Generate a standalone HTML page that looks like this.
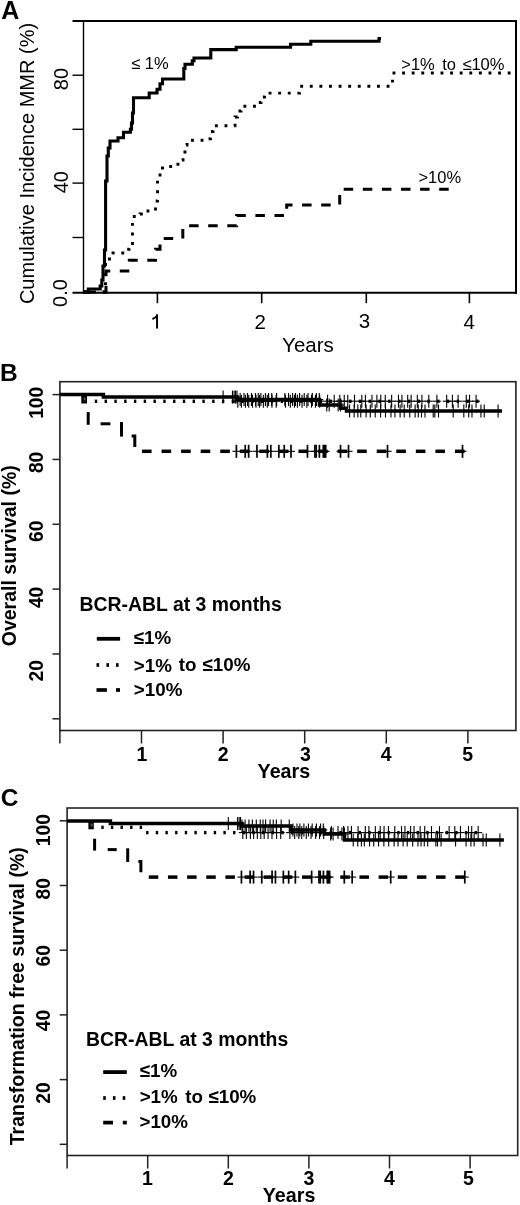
<!DOCTYPE html>
<html><head><meta charset="utf-8"><style>
html,body{margin:0;padding:0;background:#fff;}
svg{display:block;will-change:transform;}
text{font-family:"Liberation Sans", sans-serif;}
</style></head><body>
<svg width="520" height="1205" viewBox="0 0 520 1205">
<rect width="520" height="1205" fill="#fff"/>
<line x1="72.5" y1="21" x2="517" y2="21" stroke="#000" stroke-width="2" />
<line x1="516" y1="20" x2="516" y2="294" stroke="#000" stroke-width="2" />
<line x1="72.5" y1="292.8" x2="517" y2="292.8" stroke="#000" stroke-width="2" />
<line x1="83.5" y1="20" x2="83.5" y2="293.5" stroke="#000" stroke-width="1.4" />
<line x1="72.5" y1="75.2" x2="83.5" y2="75.2" stroke="#000" stroke-width="1.4" />
<line x1="72.5" y1="129.3" x2="83.5" y2="129.3" stroke="#000" stroke-width="1.4" />
<line x1="72.5" y1="183.1" x2="83.5" y2="183.1" stroke="#000" stroke-width="1.4" />
<line x1="72.5" y1="237.5" x2="83.5" y2="237.5" stroke="#000" stroke-width="1.4" />
<line x1="157.4" y1="292" x2="157.4" y2="303.2" stroke="#000" stroke-width="1.6" />
<line x1="261.7" y1="292" x2="261.7" y2="303.2" stroke="#000" stroke-width="1.6" />
<line x1="366.3" y1="292" x2="366.3" y2="303.2" stroke="#000" stroke-width="1.6" />
<line x1="469.4" y1="292" x2="469.4" y2="303.2" stroke="#000" stroke-width="1.6" />
<polyline points="83.50,292.00 88.30,292.00 88.30,289.00 100.20,289.00 100.20,286.00 101.80,286.00 101.80,280.00 103.00,280.00 103.00,266.00 104.50,266.00 104.50,250.00 105.60,250.00 105.60,181.00 107.00,181.00 107.00,156.00 108.30,156.00 108.30,148.00 110.00,148.00 110.00,141.00 118.00,141.00 118.00,137.70 123.50,137.70 123.50,132.30 130.40,132.30 130.40,129.20 131.50,129.20 131.50,123.00 132.50,123.00 132.50,113.00 133.50,113.00 133.50,97.70 149.20,97.70 149.20,93.00 157.00,93.00 157.00,89.20 160.00,89.20 160.00,83.80 162.50,83.80 162.50,79.00 183.80,79.00 183.80,68.50 185.00,68.50 185.00,64.20 192.30,64.20 192.30,60.80 194.00,60.80 194.00,58.00 210.80,58.00 210.80,49.60 236.20,49.60 236.20,47.30 290.60,47.30 290.60,44.20 310.80,44.20 310.80,41.30 379.00,41.30 379.00,38.50 381.00,38.50" fill="none" stroke="#000" stroke-width="3.1" stroke-linejoin="miter" stroke-linecap="butt" />
<polyline points="83.50,292.00 105.50,292.00 105.50,262.00 109.50,262.00 109.50,255.00 113.00,255.00 113.00,253.00 126.00,253.00 126.00,249.30 129.00,249.30 129.00,246.00 132.50,246.00 132.50,216.50 140.00,216.50 140.00,214.00 145.00,214.00 145.00,211.00 155.50,211.00 155.50,201.00 157.50,201.00 157.50,178.00 160.00,178.00 160.00,170.00 162.50,170.00 162.50,166.50 173.00,166.50 173.00,164.20 180.00,164.20 180.00,160.00 183.00,160.00 183.00,152.00 185.00,152.00 185.00,145.00 187.00,145.00 187.00,140.30 208.00,140.30 208.00,138.70 210.50,138.70 210.50,131.50 213.00,131.50 213.00,125.80 235.00,125.80 235.00,117.00 237.50,117.00 237.50,111.00 241.00,111.00 241.00,106.30 256.00,106.30 256.00,102.50 261.00,102.50 261.00,97.00 264.50,97.00 264.50,93.10 299.50,93.10 299.50,86.30 392.50,86.30 392.50,73.00 516.00,73.00" fill="none" stroke="#000" stroke-width="2.9" stroke-linejoin="miter" stroke-linecap="butt" stroke-dasharray="2.9 6.7" stroke-dashoffset="0"/>
<polyline points="83.50,292.00 106.00,292.00 106.00,271.00 129.30,271.00 129.30,260.30 155.50,260.30 155.50,249.20 160.00,249.20 160.00,238.50 182.80,238.50 182.80,225.70 236.60,225.70 236.60,215.60 286.70,215.60 286.70,205.00 339.70,205.00 339.70,189.30 450.00,189.30" fill="none" stroke="#000" stroke-width="3" stroke-linejoin="miter" stroke-linecap="butt" stroke-dasharray="9.5 9.6" stroke-dashoffset="0"/>
<path d="M157.05 314.3V328.6M157.6 315.0Q155.9 317.8 152.4 319.0" stroke="#000" stroke-width="1.95" fill="none"/>
<rect x="59.9" y="381.7" width="456.0" height="348.8" fill="none" stroke="#222" stroke-width="1.6"/>
<line x1="52.5" y1="394.59999999999997" x2="59.9" y2="394.59999999999997" stroke="#222" stroke-width="1.5" />
<line x1="52.5" y1="459.43999999999994" x2="59.9" y2="459.43999999999994" stroke="#222" stroke-width="1.5" />
<line x1="52.5" y1="524.28" x2="59.9" y2="524.28" stroke="#222" stroke-width="1.5" />
<line x1="52.5" y1="589.1199999999999" x2="59.9" y2="589.1199999999999" stroke="#222" stroke-width="1.5" />
<line x1="52.5" y1="653.9599999999999" x2="59.9" y2="653.9599999999999" stroke="#222" stroke-width="1.5" />
<line x1="52.5" y1="718.8" x2="59.9" y2="718.8" stroke="#222" stroke-width="1.5" />
<line x1="59.9" y1="730.5" x2="59.9" y2="743.5" stroke="#222" stroke-width="1.5" />
<line x1="141.5" y1="730.5" x2="141.5" y2="743.5" stroke="#222" stroke-width="1.5" />
<line x1="223.1" y1="730.5" x2="223.1" y2="743.5" stroke="#222" stroke-width="1.5" />
<line x1="304.7" y1="730.5" x2="304.7" y2="743.5" stroke="#222" stroke-width="1.5" />
<line x1="386.29999999999995" y1="730.5" x2="386.29999999999995" y2="743.5" stroke="#222" stroke-width="1.5" />
<line x1="467.9" y1="730.5" x2="467.9" y2="743.5" stroke="#222" stroke-width="1.5" />
<rect x="67.1" y="808" width="450.6" height="347.5" fill="none" stroke="#222" stroke-width="1.6"/>
<line x1="59.699999999999996" y1="820.8" x2="67.1" y2="820.8" stroke="#222" stroke-width="1.5" />
<line x1="59.699999999999996" y1="885.5" x2="67.1" y2="885.5" stroke="#222" stroke-width="1.5" />
<line x1="59.699999999999996" y1="950.1999999999999" x2="67.1" y2="950.1999999999999" stroke="#222" stroke-width="1.5" />
<line x1="59.699999999999996" y1="1014.9" x2="67.1" y2="1014.9" stroke="#222" stroke-width="1.5" />
<line x1="59.699999999999996" y1="1079.6" x2="67.1" y2="1079.6" stroke="#222" stroke-width="1.5" />
<line x1="59.699999999999996" y1="1144.3" x2="67.1" y2="1144.3" stroke="#222" stroke-width="1.5" />
<line x1="67.1" y1="1155.5" x2="67.1" y2="1168.5" stroke="#222" stroke-width="1.5" />
<line x1="147.7" y1="1155.5" x2="147.7" y2="1168.5" stroke="#222" stroke-width="1.5" />
<line x1="228.29999999999998" y1="1155.5" x2="228.29999999999998" y2="1168.5" stroke="#222" stroke-width="1.5" />
<line x1="308.9" y1="1155.5" x2="308.9" y2="1168.5" stroke="#222" stroke-width="1.5" />
<line x1="389.5" y1="1155.5" x2="389.5" y2="1168.5" stroke="#222" stroke-width="1.5" />
<line x1="470.1" y1="1155.5" x2="470.1" y2="1168.5" stroke="#222" stroke-width="1.5" />
<rect x="81.3" y="394.5" width="5.7" height="9" fill="#000"/><rect x="83.6" y="397.5" width="2" height="3" fill="#555"/>
<line x1="88.2" y1="412.1" x2="88.2" y2="424.8" stroke="#000" stroke-width="3" />
<line x1="100.6" y1="423.8" x2="110.4" y2="423.8" stroke="#000" stroke-width="3" />
<line x1="121.5" y1="422" x2="121.5" y2="436.6" stroke="#000" stroke-width="3" />
<polyline points="131.60,435.90 134.80,435.90 134.80,447.00" fill="none" stroke="#000" stroke-width="3" stroke-linejoin="miter" stroke-linecap="butt" />
<line x1="142" y1="451.3" x2="151.6" y2="451.3" stroke="#000" stroke-width="3.5" />
<line x1="161.56" y1="451.3" x2="171.16" y2="451.3" stroke="#000" stroke-width="3.5" />
<line x1="181.12" y1="451.3" x2="190.72" y2="451.3" stroke="#000" stroke-width="3.5" />
<line x1="200.68" y1="451.3" x2="210.28" y2="451.3" stroke="#000" stroke-width="3.5" />
<line x1="220.24" y1="451.3" x2="229.84" y2="451.3" stroke="#000" stroke-width="3.5" />
<line x1="239.8" y1="451.3" x2="249.4" y2="451.3" stroke="#000" stroke-width="3.5" />
<line x1="259.36" y1="451.3" x2="268.96000000000004" y2="451.3" stroke="#000" stroke-width="3.5" />
<line x1="278.92" y1="451.3" x2="288.52000000000004" y2="451.3" stroke="#000" stroke-width="3.5" />
<line x1="298.48" y1="451.3" x2="308.08000000000004" y2="451.3" stroke="#000" stroke-width="3.5" />
<line x1="318.04" y1="451.3" x2="327.64000000000004" y2="451.3" stroke="#000" stroke-width="3.5" />
<line x1="337.6" y1="451.3" x2="347.20000000000005" y2="451.3" stroke="#000" stroke-width="3.5" />
<line x1="357.16" y1="451.3" x2="366.76000000000005" y2="451.3" stroke="#000" stroke-width="3.5" />
<line x1="376.72" y1="451.3" x2="386.32000000000005" y2="451.3" stroke="#000" stroke-width="3.5" />
<line x1="396.28000000000003" y1="451.3" x2="405.88000000000005" y2="451.3" stroke="#000" stroke-width="3.5" />
<line x1="415.84000000000003" y1="451.3" x2="425.44000000000005" y2="451.3" stroke="#000" stroke-width="3.5" />
<line x1="435.40000000000003" y1="451.3" x2="445.00000000000006" y2="451.3" stroke="#000" stroke-width="3.5" />
<line x1="454.96000000000004" y1="451.3" x2="464.56000000000006" y2="451.3" stroke="#000" stroke-width="3.5" />
<line x1="94.8" y1="401.3" x2="97.2" y2="401.3" stroke="#000" stroke-width="3.4" />
<line x1="104.58" y1="401.3" x2="106.98" y2="401.3" stroke="#000" stroke-width="3.4" />
<line x1="114.36" y1="401.3" x2="116.76" y2="401.3" stroke="#000" stroke-width="3.4" />
<line x1="124.14" y1="401.3" x2="126.54" y2="401.3" stroke="#000" stroke-width="3.4" />
<line x1="133.92000000000002" y1="401.3" x2="136.32" y2="401.3" stroke="#000" stroke-width="3.4" />
<line x1="143.70000000000002" y1="401.3" x2="146.1" y2="401.3" stroke="#000" stroke-width="3.4" />
<line x1="153.48000000000002" y1="401.3" x2="155.88" y2="401.3" stroke="#000" stroke-width="3.4" />
<line x1="163.26000000000002" y1="401.3" x2="165.66" y2="401.3" stroke="#000" stroke-width="3.4" />
<line x1="173.04000000000002" y1="401.3" x2="175.44" y2="401.3" stroke="#000" stroke-width="3.4" />
<line x1="182.82000000000002" y1="401.3" x2="185.22" y2="401.3" stroke="#000" stroke-width="3.4" />
<line x1="192.60000000000002" y1="401.3" x2="195.0" y2="401.3" stroke="#000" stroke-width="3.4" />
<line x1="202.38000000000002" y1="401.3" x2="204.78" y2="401.3" stroke="#000" stroke-width="3.4" />
<line x1="212.16000000000003" y1="401.3" x2="214.56" y2="401.3" stroke="#000" stroke-width="3.4" />
<line x1="221.94000000000003" y1="401.3" x2="224.34" y2="401.3" stroke="#000" stroke-width="3.4" />
<line x1="231.72000000000003" y1="401.3" x2="234.12" y2="401.3" stroke="#000" stroke-width="3.4" />
<line x1="241.50000000000003" y1="401.3" x2="243.9" y2="401.3" stroke="#000" stroke-width="3.4" />
<line x1="251.28000000000003" y1="401.3" x2="253.68" y2="401.3" stroke="#000" stroke-width="3.4" />
<line x1="261.06" y1="401.3" x2="263.46" y2="401.3" stroke="#000" stroke-width="3.4" />
<line x1="270.84" y1="401.3" x2="273.23999999999995" y2="401.3" stroke="#000" stroke-width="3.4" />
<line x1="280.61999999999995" y1="401.3" x2="283.0199999999999" y2="401.3" stroke="#000" stroke-width="3.4" />
<line x1="290.3999999999999" y1="401.3" x2="292.7999999999999" y2="401.3" stroke="#000" stroke-width="3.4" />
<line x1="300.1799999999999" y1="401.3" x2="302.57999999999987" y2="401.3" stroke="#000" stroke-width="3.4" />
<line x1="309.95999999999987" y1="401.3" x2="312.35999999999984" y2="401.3" stroke="#000" stroke-width="3.4" />
<line x1="319.73999999999984" y1="401.3" x2="322.1399999999998" y2="401.3" stroke="#000" stroke-width="3.4" />
<line x1="329.5199999999998" y1="401.3" x2="331.9199999999998" y2="401.3" stroke="#000" stroke-width="3.4" />
<line x1="339.2999999999998" y1="401.3" x2="341.69999999999976" y2="401.3" stroke="#000" stroke-width="3.4" />
<line x1="349.07999999999976" y1="401.3" x2="351.47999999999973" y2="401.3" stroke="#000" stroke-width="3.4" />
<line x1="358.85999999999973" y1="401.3" x2="361.2599999999997" y2="401.3" stroke="#000" stroke-width="3.4" />
<line x1="368.6399999999997" y1="401.3" x2="371.0399999999997" y2="401.3" stroke="#000" stroke-width="3.4" />
<line x1="378.4199999999997" y1="401.3" x2="380.81999999999965" y2="401.3" stroke="#000" stroke-width="3.4" />
<line x1="388.19999999999965" y1="401.3" x2="390.5999999999996" y2="401.3" stroke="#000" stroke-width="3.4" />
<line x1="397.9799999999996" y1="401.3" x2="400.3799999999996" y2="401.3" stroke="#000" stroke-width="3.4" />
<line x1="407.7599999999996" y1="401.3" x2="410.15999999999957" y2="401.3" stroke="#000" stroke-width="3.4" />
<line x1="417.53999999999957" y1="401.3" x2="419.93999999999954" y2="401.3" stroke="#000" stroke-width="3.4" />
<line x1="427.31999999999954" y1="401.3" x2="429.7199999999995" y2="401.3" stroke="#000" stroke-width="3.4" />
<line x1="437.0999999999995" y1="401.3" x2="439.4999999999995" y2="401.3" stroke="#000" stroke-width="3.4" />
<line x1="446.8799999999995" y1="401.3" x2="449.27999999999946" y2="401.3" stroke="#000" stroke-width="3.4" />
<line x1="456.65999999999946" y1="401.3" x2="459.05999999999943" y2="401.3" stroke="#000" stroke-width="3.4" />
<line x1="466.43999999999943" y1="401.3" x2="468.8399999999994" y2="401.3" stroke="#000" stroke-width="3.4" />
<line x1="476.2199999999994" y1="401.3" x2="478.6199999999994" y2="401.3" stroke="#000" stroke-width="3.4" />
<rect x="88.4" y="821" width="5.4" height="8.3" fill="#000"/><rect x="90.6" y="823.6" width="2" height="3" fill="#555"/>
<line x1="94.6" y1="838.7" x2="94.6" y2="850.6" stroke="#000" stroke-width="3" />
<line x1="107.7" y1="849.6" x2="116.7" y2="849.6" stroke="#000" stroke-width="3" />
<line x1="127.7" y1="848.3" x2="127.7" y2="862" stroke="#000" stroke-width="3" />
<polyline points="138.40,861.40 140.90,861.40 140.90,872.30" fill="none" stroke="#000" stroke-width="3" stroke-linejoin="miter" stroke-linecap="butt" />
<line x1="148.8" y1="877.1" x2="158.3" y2="877.1" stroke="#000" stroke-width="3.5" />
<line x1="167.95000000000002" y1="877.1" x2="177.45000000000002" y2="877.1" stroke="#000" stroke-width="3.5" />
<line x1="187.10000000000002" y1="877.1" x2="196.60000000000002" y2="877.1" stroke="#000" stroke-width="3.5" />
<line x1="206.25000000000003" y1="877.1" x2="215.75000000000003" y2="877.1" stroke="#000" stroke-width="3.5" />
<line x1="225.40000000000003" y1="877.1" x2="234.90000000000003" y2="877.1" stroke="#000" stroke-width="3.5" />
<line x1="244.55000000000004" y1="877.1" x2="254.05000000000004" y2="877.1" stroke="#000" stroke-width="3.5" />
<line x1="263.70000000000005" y1="877.1" x2="273.20000000000005" y2="877.1" stroke="#000" stroke-width="3.5" />
<line x1="282.85" y1="877.1" x2="292.35" y2="877.1" stroke="#000" stroke-width="3.5" />
<line x1="302.0" y1="877.1" x2="311.5" y2="877.1" stroke="#000" stroke-width="3.5" />
<line x1="321.15" y1="877.1" x2="330.65" y2="877.1" stroke="#000" stroke-width="3.5" />
<line x1="340.29999999999995" y1="877.1" x2="349.79999999999995" y2="877.1" stroke="#000" stroke-width="3.5" />
<line x1="359.44999999999993" y1="877.1" x2="368.94999999999993" y2="877.1" stroke="#000" stroke-width="3.5" />
<line x1="378.5999999999999" y1="877.1" x2="388.0999999999999" y2="877.1" stroke="#000" stroke-width="3.5" />
<line x1="397.7499999999999" y1="877.1" x2="407.2499999999999" y2="877.1" stroke="#000" stroke-width="3.5" />
<line x1="416.89999999999986" y1="877.1" x2="426.39999999999986" y2="877.1" stroke="#000" stroke-width="3.5" />
<line x1="436.04999999999984" y1="877.1" x2="445.54999999999984" y2="877.1" stroke="#000" stroke-width="3.5" />
<line x1="455.1999999999998" y1="877.1" x2="464.6999999999998" y2="877.1" stroke="#000" stroke-width="3.5" />
<line x1="101.3" y1="827.3" x2="103.7" y2="827.3" stroke="#000" stroke-width="3.4" />
<line x1="110.89999999999999" y1="827.3" x2="113.3" y2="827.3" stroke="#000" stroke-width="3.4" />
<line x1="120.49999999999999" y1="827.3" x2="122.89999999999999" y2="827.3" stroke="#000" stroke-width="3.4" />
<line x1="130.1" y1="827.3" x2="132.49999999999997" y2="827.3" stroke="#000" stroke-width="3.4" />
<line x1="139.7" y1="827.3" x2="142.09999999999997" y2="827.3" stroke="#000" stroke-width="3.4" />
<line x1="146.10000000000002" y1="832.6" x2="148.5" y2="832.6" stroke="#000" stroke-width="3.4" />
<line x1="155.76000000000002" y1="832.6" x2="158.16" y2="832.6" stroke="#000" stroke-width="3.4" />
<line x1="165.42000000000002" y1="832.6" x2="167.82" y2="832.6" stroke="#000" stroke-width="3.4" />
<line x1="175.08" y1="832.6" x2="177.48" y2="832.6" stroke="#000" stroke-width="3.4" />
<line x1="184.74" y1="832.6" x2="187.14" y2="832.6" stroke="#000" stroke-width="3.4" />
<line x1="194.4" y1="832.6" x2="196.79999999999998" y2="832.6" stroke="#000" stroke-width="3.4" />
<line x1="204.06" y1="832.6" x2="206.45999999999998" y2="832.6" stroke="#000" stroke-width="3.4" />
<line x1="213.72" y1="832.6" x2="216.11999999999998" y2="832.6" stroke="#000" stroke-width="3.4" />
<line x1="223.38" y1="832.6" x2="225.77999999999997" y2="832.6" stroke="#000" stroke-width="3.4" />
<line x1="233.04" y1="832.6" x2="235.43999999999997" y2="832.6" stroke="#000" stroke-width="3.4" />
<line x1="242.7" y1="832.6" x2="245.09999999999997" y2="832.6" stroke="#000" stroke-width="3.4" />
<line x1="252.35999999999999" y1="832.6" x2="254.75999999999996" y2="832.6" stroke="#000" stroke-width="3.4" />
<line x1="262.02" y1="832.6" x2="264.41999999999996" y2="832.6" stroke="#000" stroke-width="3.4" />
<line x1="271.68" y1="832.6" x2="274.08" y2="832.6" stroke="#000" stroke-width="3.4" />
<line x1="281.34000000000003" y1="832.6" x2="283.74" y2="832.6" stroke="#000" stroke-width="3.4" />
<line x1="291.00000000000006" y1="832.6" x2="293.40000000000003" y2="832.6" stroke="#000" stroke-width="3.4" />
<line x1="300.6600000000001" y1="832.6" x2="303.06000000000006" y2="832.6" stroke="#000" stroke-width="3.4" />
<line x1="310.3200000000001" y1="832.6" x2="312.7200000000001" y2="832.6" stroke="#000" stroke-width="3.4" />
<line x1="319.98000000000013" y1="832.6" x2="322.3800000000001" y2="832.6" stroke="#000" stroke-width="3.4" />
<line x1="329.64000000000016" y1="832.6" x2="332.04000000000013" y2="832.6" stroke="#000" stroke-width="3.4" />
<line x1="339.3000000000002" y1="832.6" x2="341.70000000000016" y2="832.6" stroke="#000" stroke-width="3.4" />
<line x1="348.9600000000002" y1="832.6" x2="351.3600000000002" y2="832.6" stroke="#000" stroke-width="3.4" />
<line x1="358.62000000000023" y1="832.6" x2="361.0200000000002" y2="832.6" stroke="#000" stroke-width="3.4" />
<line x1="368.28000000000026" y1="832.6" x2="370.68000000000023" y2="832.6" stroke="#000" stroke-width="3.4" />
<line x1="377.9400000000003" y1="832.6" x2="380.34000000000026" y2="832.6" stroke="#000" stroke-width="3.4" />
<line x1="387.6000000000003" y1="832.6" x2="390.0000000000003" y2="832.6" stroke="#000" stroke-width="3.4" />
<line x1="397.26000000000033" y1="832.6" x2="399.6600000000003" y2="832.6" stroke="#000" stroke-width="3.4" />
<line x1="406.92000000000036" y1="832.6" x2="409.32000000000033" y2="832.6" stroke="#000" stroke-width="3.4" />
<line x1="416.5800000000004" y1="832.6" x2="418.98000000000036" y2="832.6" stroke="#000" stroke-width="3.4" />
<line x1="426.2400000000004" y1="832.6" x2="428.6400000000004" y2="832.6" stroke="#000" stroke-width="3.4" />
<line x1="435.90000000000043" y1="832.6" x2="438.3000000000004" y2="832.6" stroke="#000" stroke-width="3.4" />
<line x1="445.56000000000046" y1="832.6" x2="447.96000000000043" y2="832.6" stroke="#000" stroke-width="3.4" />
<line x1="455.2200000000005" y1="832.6" x2="457.62000000000046" y2="832.6" stroke="#000" stroke-width="3.4" />
<line x1="464.8800000000005" y1="832.6" x2="467.2800000000005" y2="832.6" stroke="#000" stroke-width="3.4" />
<line x1="474.54000000000053" y1="832.6" x2="476.9400000000005" y2="832.6" stroke="#000" stroke-width="3.4" />
<polyline points="59.90,394.60 103.40,394.60 103.40,397.10 237.00,397.10 237.00,399.60 319.50,399.60 319.50,405.00 340.80,405.00 340.80,408.30 346.50,408.30 346.50,411.00 502.00,411.00" fill="none" stroke="#000" stroke-width="3.5" stroke-linejoin="miter" stroke-linecap="butt" />
<polyline points="67.10,821.00 110.40,821.00 110.40,823.40 242.00,823.40 242.00,826.00 291.00,826.00 291.00,830.00 324.50,830.00 324.50,834.00 344.50,834.00 344.50,840.00 503.80,840.00" fill="none" stroke="#000" stroke-width="3.5" stroke-linejoin="miter" stroke-linecap="butt" />
<path d="M223.10 390.60V403.60" stroke="#000" stroke-width="1.1" fill="none"/><path d="M219.10 397.10H227.10" stroke="#000" stroke-width="1.1" fill="none"/>
<path d="M232.48 390.60V403.60" stroke="#000" stroke-width="1.1" fill="none"/><path d="M228.48 397.10H236.48" stroke="#000" stroke-width="1.1" fill="none"/>
<path d="M234.12 390.60V403.60" stroke="#000" stroke-width="1.1" fill="none"/><path d="M230.12 397.10H238.12" stroke="#000" stroke-width="1.1" fill="none"/>
<path d="M235.50 390.60V403.60" stroke="#000" stroke-width="1.1" fill="none"/><path d="M231.50 397.10H239.50" stroke="#000" stroke-width="1.1" fill="none"/>
<path d="M236.97 390.60V403.60" stroke="#000" stroke-width="1.1" fill="none"/><path d="M232.97 397.10H240.97" stroke="#000" stroke-width="1.1" fill="none"/>
<path d="M240.13 393.10V406.10" stroke="#000" stroke-width="1.1" fill="none"/><path d="M236.13 399.60H244.13" stroke="#000" stroke-width="1.1" fill="none"/>
<path d="M243.98 393.10V406.10" stroke="#000" stroke-width="1.1" fill="none"/><path d="M239.98 399.60H247.98" stroke="#000" stroke-width="1.1" fill="none"/>
<path d="M247.44 393.10V406.10" stroke="#000" stroke-width="1.1" fill="none"/><path d="M243.44 399.60H251.44" stroke="#000" stroke-width="1.1" fill="none"/>
<path d="M251.43 393.10V406.10" stroke="#000" stroke-width="1.1" fill="none"/><path d="M247.43 399.60H255.43" stroke="#000" stroke-width="1.1" fill="none"/>
<path d="M255.47 393.10V406.10" stroke="#000" stroke-width="1.1" fill="none"/><path d="M251.47 399.60H259.47" stroke="#000" stroke-width="1.1" fill="none"/>
<path d="M258.23 393.10V406.10" stroke="#000" stroke-width="1.1" fill="none"/><path d="M254.23 399.60H262.23" stroke="#000" stroke-width="1.1" fill="none"/>
<path d="M260.87 393.10V406.10" stroke="#000" stroke-width="1.1" fill="none"/><path d="M256.87 399.60H264.87" stroke="#000" stroke-width="1.1" fill="none"/>
<path d="M265.40 393.10V406.10" stroke="#000" stroke-width="1.1" fill="none"/><path d="M261.40 399.60H269.40" stroke="#000" stroke-width="1.1" fill="none"/>
<path d="M268.60 393.10V406.10" stroke="#000" stroke-width="1.1" fill="none"/><path d="M264.60 399.60H272.60" stroke="#000" stroke-width="1.1" fill="none"/>
<path d="M271.75 393.10V406.10" stroke="#000" stroke-width="1.1" fill="none"/><path d="M267.75 399.60H275.75" stroke="#000" stroke-width="1.1" fill="none"/>
<path d="M276.63 393.10V406.10" stroke="#000" stroke-width="1.1" fill="none"/><path d="M272.63 399.60H280.63" stroke="#000" stroke-width="1.1" fill="none"/>
<path d="M284.84 393.10V406.10" stroke="#000" stroke-width="1.1" fill="none"/><path d="M280.84 399.60H288.84" stroke="#000" stroke-width="1.1" fill="none"/>
<path d="M288.54 393.10V406.10" stroke="#000" stroke-width="1.1" fill="none"/><path d="M284.54 399.60H292.54" stroke="#000" stroke-width="1.1" fill="none"/>
<path d="M292.61 393.10V406.10" stroke="#000" stroke-width="1.1" fill="none"/><path d="M288.61 399.60H296.61" stroke="#000" stroke-width="1.1" fill="none"/>
<path d="M295.57 393.10V406.10" stroke="#000" stroke-width="1.1" fill="none"/><path d="M291.57 399.60H299.57" stroke="#000" stroke-width="1.1" fill="none"/>
<path d="M299.63 393.10V406.10" stroke="#000" stroke-width="1.1" fill="none"/><path d="M295.63 399.60H303.63" stroke="#000" stroke-width="1.1" fill="none"/>
<path d="M304.22 393.10V406.10" stroke="#000" stroke-width="1.1" fill="none"/><path d="M300.22 399.60H308.22" stroke="#000" stroke-width="1.1" fill="none"/>
<path d="M308.03 393.10V406.10" stroke="#000" stroke-width="1.1" fill="none"/><path d="M304.03 399.60H312.03" stroke="#000" stroke-width="1.1" fill="none"/>
<path d="M312.34 393.10V406.10" stroke="#000" stroke-width="1.1" fill="none"/><path d="M308.34 399.60H316.34" stroke="#000" stroke-width="1.1" fill="none"/>
<path d="M316.48 393.10V406.10" stroke="#000" stroke-width="1.1" fill="none"/><path d="M312.48 399.60H320.48" stroke="#000" stroke-width="1.1" fill="none"/>
<path d="M319.24 393.10V406.10" stroke="#000" stroke-width="1.1" fill="none"/><path d="M315.24 399.60H323.24" stroke="#000" stroke-width="1.1" fill="none"/>
<path d="M326.73 398.50V411.50" stroke="#000" stroke-width="1.1" fill="none"/><path d="M322.73 405.00H330.73" stroke="#000" stroke-width="1.1" fill="none"/>
<path d="M329.18 398.50V411.50" stroke="#000" stroke-width="1.1" fill="none"/><path d="M325.18 405.00H333.18" stroke="#000" stroke-width="1.1" fill="none"/>
<path d="M338.16 398.50V411.50" stroke="#000" stroke-width="1.1" fill="none"/><path d="M334.16 405.00H342.16" stroke="#000" stroke-width="1.1" fill="none"/>
<path d="M340.60 398.50V411.50" stroke="#000" stroke-width="1.1" fill="none"/><path d="M336.60 405.00H344.60" stroke="#000" stroke-width="1.1" fill="none"/>
<path d="M349.58 404.50V417.50" stroke="#000" stroke-width="1.1" fill="none"/><path d="M345.58 411.00H353.58" stroke="#000" stroke-width="1.1" fill="none"/>
<path d="M354.12 404.50V417.50" stroke="#000" stroke-width="1.1" fill="none"/><path d="M350.12 411.00H358.12" stroke="#000" stroke-width="1.1" fill="none"/>
<path d="M357.84 404.50V417.50" stroke="#000" stroke-width="1.1" fill="none"/><path d="M353.84 411.00H361.84" stroke="#000" stroke-width="1.1" fill="none"/>
<path d="M360.79 404.50V417.50" stroke="#000" stroke-width="1.1" fill="none"/><path d="M356.79 411.00H364.79" stroke="#000" stroke-width="1.1" fill="none"/>
<path d="M366.11 404.50V417.50" stroke="#000" stroke-width="1.1" fill="none"/><path d="M362.11 411.00H370.11" stroke="#000" stroke-width="1.1" fill="none"/>
<path d="M370.32 404.50V417.50" stroke="#000" stroke-width="1.1" fill="none"/><path d="M366.32 411.00H374.32" stroke="#000" stroke-width="1.1" fill="none"/>
<path d="M375.23 404.50V417.50" stroke="#000" stroke-width="1.1" fill="none"/><path d="M371.23 411.00H379.23" stroke="#000" stroke-width="1.1" fill="none"/>
<path d="M380.59 404.50V417.50" stroke="#000" stroke-width="1.1" fill="none"/><path d="M376.59 411.00H384.59" stroke="#000" stroke-width="1.1" fill="none"/>
<path d="M385.49 404.50V417.50" stroke="#000" stroke-width="1.1" fill="none"/><path d="M381.49 411.00H389.49" stroke="#000" stroke-width="1.1" fill="none"/>
<path d="M390.98 404.50V417.50" stroke="#000" stroke-width="1.1" fill="none"/><path d="M386.98 411.00H394.98" stroke="#000" stroke-width="1.1" fill="none"/>
<path d="M394.96 404.50V417.50" stroke="#000" stroke-width="1.1" fill="none"/><path d="M390.96 411.00H398.96" stroke="#000" stroke-width="1.1" fill="none"/>
<path d="M400.10 404.50V417.50" stroke="#000" stroke-width="1.1" fill="none"/><path d="M396.10 411.00H404.10" stroke="#000" stroke-width="1.1" fill="none"/>
<path d="M404.23 404.50V417.50" stroke="#000" stroke-width="1.1" fill="none"/><path d="M400.23 411.00H408.23" stroke="#000" stroke-width="1.1" fill="none"/>
<path d="M409.76 404.50V417.50" stroke="#000" stroke-width="1.1" fill="none"/><path d="M405.76 411.00H413.76" stroke="#000" stroke-width="1.1" fill="none"/>
<path d="M415.12 404.50V417.50" stroke="#000" stroke-width="1.1" fill="none"/><path d="M411.12 411.00H419.12" stroke="#000" stroke-width="1.1" fill="none"/>
<path d="M418.26 404.50V417.50" stroke="#000" stroke-width="1.1" fill="none"/><path d="M414.26 411.00H422.26" stroke="#000" stroke-width="1.1" fill="none"/>
<path d="M421.50 404.50V417.50" stroke="#000" stroke-width="1.1" fill="none"/><path d="M417.50 411.00H425.50" stroke="#000" stroke-width="1.1" fill="none"/>
<path d="M424.98 404.50V417.50" stroke="#000" stroke-width="1.1" fill="none"/><path d="M420.98 411.00H428.98" stroke="#000" stroke-width="1.1" fill="none"/>
<path d="M433.22 404.50V417.50" stroke="#000" stroke-width="1.1" fill="none"/><path d="M429.22 411.00H437.22" stroke="#000" stroke-width="1.1" fill="none"/>
<path d="M434.85 404.50V417.50" stroke="#000" stroke-width="1.1" fill="none"/><path d="M430.85 411.00H438.85" stroke="#000" stroke-width="1.1" fill="none"/>
<path d="M438.52 404.50V417.50" stroke="#000" stroke-width="1.1" fill="none"/><path d="M434.52 411.00H442.52" stroke="#000" stroke-width="1.1" fill="none"/>
<path d="M453.21 404.50V417.50" stroke="#000" stroke-width="1.1" fill="none"/><path d="M449.21 411.00H457.21" stroke="#000" stroke-width="1.1" fill="none"/>
<path d="M463.82 404.50V417.50" stroke="#000" stroke-width="1.1" fill="none"/><path d="M459.82 411.00H467.82" stroke="#000" stroke-width="1.1" fill="none"/>
<path d="M468.72 404.50V417.50" stroke="#000" stroke-width="1.1" fill="none"/><path d="M464.72 411.00H472.72" stroke="#000" stroke-width="1.1" fill="none"/>
<path d="M471.98 404.50V417.50" stroke="#000" stroke-width="1.1" fill="none"/><path d="M467.98 411.00H475.98" stroke="#000" stroke-width="1.1" fill="none"/>
<path d="M480.96 404.50V417.50" stroke="#000" stroke-width="1.1" fill="none"/><path d="M476.96 411.00H484.96" stroke="#000" stroke-width="1.1" fill="none"/>
<path d="M484.22 404.50V417.50" stroke="#000" stroke-width="1.1" fill="none"/><path d="M480.22 411.00H488.22" stroke="#000" stroke-width="1.1" fill="none"/>
<path d="M498.09 404.50V417.50" stroke="#000" stroke-width="1.1" fill="none"/><path d="M494.09 411.00H502.09" stroke="#000" stroke-width="1.1" fill="none"/>
<path d="M237.79 394.70V407.70" stroke="#000" stroke-width="1.1" fill="none"/><path d="M233.79 401.20H241.79" stroke="#000" stroke-width="1.1" fill="none"/>
<path d="M241.40 394.70V407.70" stroke="#000" stroke-width="1.1" fill="none"/><path d="M237.40 401.20H245.40" stroke="#000" stroke-width="1.1" fill="none"/>
<path d="M245.44 394.70V407.70" stroke="#000" stroke-width="1.1" fill="none"/><path d="M241.44 401.20H249.44" stroke="#000" stroke-width="1.1" fill="none"/>
<path d="M248.74 394.70V407.70" stroke="#000" stroke-width="1.1" fill="none"/><path d="M244.74 401.20H252.74" stroke="#000" stroke-width="1.1" fill="none"/>
<path d="M252.51 394.70V407.70" stroke="#000" stroke-width="1.1" fill="none"/><path d="M248.51 401.20H256.51" stroke="#000" stroke-width="1.1" fill="none"/>
<path d="M256.00 394.70V407.70" stroke="#000" stroke-width="1.1" fill="none"/><path d="M252.00 401.20H260.00" stroke="#000" stroke-width="1.1" fill="none"/>
<path d="M259.41 394.70V407.70" stroke="#000" stroke-width="1.1" fill="none"/><path d="M255.41 401.20H263.41" stroke="#000" stroke-width="1.1" fill="none"/>
<path d="M263.36 394.70V407.70" stroke="#000" stroke-width="1.1" fill="none"/><path d="M259.36 401.20H267.36" stroke="#000" stroke-width="1.1" fill="none"/>
<path d="M267.31 394.70V407.70" stroke="#000" stroke-width="1.1" fill="none"/><path d="M263.31 401.20H271.31" stroke="#000" stroke-width="1.1" fill="none"/>
<path d="M271.98 394.70V407.70" stroke="#000" stroke-width="1.1" fill="none"/><path d="M267.98 401.20H275.98" stroke="#000" stroke-width="1.1" fill="none"/>
<path d="M276.15 394.70V407.70" stroke="#000" stroke-width="1.1" fill="none"/><path d="M272.15 401.20H280.15" stroke="#000" stroke-width="1.1" fill="none"/>
<path d="M285.46 394.70V407.70" stroke="#000" stroke-width="1.1" fill="none"/><path d="M281.46 401.20H289.46" stroke="#000" stroke-width="1.1" fill="none"/>
<path d="M290.33 394.70V407.70" stroke="#000" stroke-width="1.1" fill="none"/><path d="M286.33 401.20H294.33" stroke="#000" stroke-width="1.1" fill="none"/>
<path d="M294.48 394.70V407.70" stroke="#000" stroke-width="1.1" fill="none"/><path d="M290.48 401.20H298.48" stroke="#000" stroke-width="1.1" fill="none"/>
<path d="M297.46 394.70V407.70" stroke="#000" stroke-width="1.1" fill="none"/><path d="M293.46 401.20H301.46" stroke="#000" stroke-width="1.1" fill="none"/>
<path d="M302.04 394.70V407.70" stroke="#000" stroke-width="1.1" fill="none"/><path d="M298.04 401.20H306.04" stroke="#000" stroke-width="1.1" fill="none"/>
<path d="M306.85 394.70V407.70" stroke="#000" stroke-width="1.1" fill="none"/><path d="M302.85 401.20H310.85" stroke="#000" stroke-width="1.1" fill="none"/>
<path d="M311.53 394.70V407.70" stroke="#000" stroke-width="1.1" fill="none"/><path d="M307.53 401.20H315.53" stroke="#000" stroke-width="1.1" fill="none"/>
<path d="M315.44 394.70V407.70" stroke="#000" stroke-width="1.1" fill="none"/><path d="M311.44 401.20H319.44" stroke="#000" stroke-width="1.1" fill="none"/>
<path d="M319.68 394.70V407.70" stroke="#000" stroke-width="1.1" fill="none"/><path d="M315.68 401.20H323.68" stroke="#000" stroke-width="1.1" fill="none"/>
<path d="M327.55 394.70V407.70" stroke="#000" stroke-width="1.1" fill="none"/><path d="M323.55 401.20H331.55" stroke="#000" stroke-width="1.1" fill="none"/>
<path d="M334.20 394.70V407.70" stroke="#000" stroke-width="1.1" fill="none"/><path d="M330.20 401.20H338.20" stroke="#000" stroke-width="1.1" fill="none"/>
<path d="M339.81 394.70V407.70" stroke="#000" stroke-width="1.1" fill="none"/><path d="M335.81 401.20H343.81" stroke="#000" stroke-width="1.1" fill="none"/>
<path d="M344.24 394.70V407.70" stroke="#000" stroke-width="1.1" fill="none"/><path d="M340.24 401.20H348.24" stroke="#000" stroke-width="1.1" fill="none"/>
<path d="M347.76 394.70V407.70" stroke="#000" stroke-width="1.1" fill="none"/><path d="M343.76 401.20H351.76" stroke="#000" stroke-width="1.1" fill="none"/>
<path d="M354.51 394.70V407.70" stroke="#000" stroke-width="1.1" fill="none"/><path d="M350.51 401.20H358.51" stroke="#000" stroke-width="1.1" fill="none"/>
<path d="M361.81 394.70V407.70" stroke="#000" stroke-width="1.1" fill="none"/><path d="M357.81 401.20H365.81" stroke="#000" stroke-width="1.1" fill="none"/>
<path d="M365.43 394.70V407.70" stroke="#000" stroke-width="1.1" fill="none"/><path d="M361.43 401.20H369.43" stroke="#000" stroke-width="1.1" fill="none"/>
<path d="M371.96 394.70V407.70" stroke="#000" stroke-width="1.1" fill="none"/><path d="M367.96 401.20H375.96" stroke="#000" stroke-width="1.1" fill="none"/>
<path d="M376.90 394.70V407.70" stroke="#000" stroke-width="1.1" fill="none"/><path d="M372.90 401.20H380.90" stroke="#000" stroke-width="1.1" fill="none"/>
<path d="M380.78 394.70V407.70" stroke="#000" stroke-width="1.1" fill="none"/><path d="M376.78 401.20H384.78" stroke="#000" stroke-width="1.1" fill="none"/>
<path d="M385.25 394.70V407.70" stroke="#000" stroke-width="1.1" fill="none"/><path d="M381.25 401.20H389.25" stroke="#000" stroke-width="1.1" fill="none"/>
<path d="M391.65 394.70V407.70" stroke="#000" stroke-width="1.1" fill="none"/><path d="M387.65 401.20H395.65" stroke="#000" stroke-width="1.1" fill="none"/>
<path d="M398.47 394.70V407.70" stroke="#000" stroke-width="1.1" fill="none"/><path d="M394.47 401.20H402.47" stroke="#000" stroke-width="1.1" fill="none"/>
<path d="M401.92 394.70V407.70" stroke="#000" stroke-width="1.1" fill="none"/><path d="M397.92 401.20H405.92" stroke="#000" stroke-width="1.1" fill="none"/>
<path d="M407.69 394.70V407.70" stroke="#000" stroke-width="1.1" fill="none"/><path d="M403.69 401.20H411.69" stroke="#000" stroke-width="1.1" fill="none"/>
<path d="M411.13 394.70V407.70" stroke="#000" stroke-width="1.1" fill="none"/><path d="M407.13 401.20H415.13" stroke="#000" stroke-width="1.1" fill="none"/>
<path d="M417.33 394.70V407.70" stroke="#000" stroke-width="1.1" fill="none"/><path d="M413.33 401.20H421.33" stroke="#000" stroke-width="1.1" fill="none"/>
<path d="M421.94 394.70V407.70" stroke="#000" stroke-width="1.1" fill="none"/><path d="M417.94 401.20H425.94" stroke="#000" stroke-width="1.1" fill="none"/>
<path d="M428.80 394.70V407.70" stroke="#000" stroke-width="1.1" fill="none"/><path d="M424.80 401.20H432.80" stroke="#000" stroke-width="1.1" fill="none"/>
<path d="M436.89 394.70V407.70" stroke="#000" stroke-width="1.1" fill="none"/><path d="M432.89 401.20H440.89" stroke="#000" stroke-width="1.1" fill="none"/>
<path d="M446.68 394.70V407.70" stroke="#000" stroke-width="1.1" fill="none"/><path d="M442.68 401.20H450.68" stroke="#000" stroke-width="1.1" fill="none"/>
<path d="M452.40 394.70V407.70" stroke="#000" stroke-width="1.1" fill="none"/><path d="M448.40 401.20H456.40" stroke="#000" stroke-width="1.1" fill="none"/>
<path d="M458.11 394.70V407.70" stroke="#000" stroke-width="1.1" fill="none"/><path d="M454.11 401.20H462.11" stroke="#000" stroke-width="1.1" fill="none"/>
<path d="M466.27 394.70V407.70" stroke="#000" stroke-width="1.1" fill="none"/><path d="M462.27 401.20H470.27" stroke="#000" stroke-width="1.1" fill="none"/>
<path d="M469.53 394.70V407.70" stroke="#000" stroke-width="1.1" fill="none"/><path d="M465.53 401.20H473.53" stroke="#000" stroke-width="1.1" fill="none"/>
<path d="M476.06 394.70V407.70" stroke="#000" stroke-width="1.1" fill="none"/><path d="M472.06 401.20H480.06" stroke="#000" stroke-width="1.1" fill="none"/>
<path d="M236.40 444.80V457.80" stroke="#000" stroke-width="1.7" fill="none"/><path d="M232.40 451.30H240.40" stroke="#000" stroke-width="1.1" fill="none"/>
<path d="M245.21 444.80V457.80" stroke="#000" stroke-width="1.7" fill="none"/><path d="M241.21 451.30H249.21" stroke="#000" stroke-width="1.1" fill="none"/>
<path d="M248.64 444.80V457.80" stroke="#000" stroke-width="1.7" fill="none"/><path d="M244.64 451.30H252.64" stroke="#000" stroke-width="1.1" fill="none"/>
<path d="M256.96 444.80V457.80" stroke="#000" stroke-width="1.7" fill="none"/><path d="M252.96 451.30H260.96" stroke="#000" stroke-width="1.1" fill="none"/>
<path d="M267.41 444.80V457.80" stroke="#000" stroke-width="1.7" fill="none"/><path d="M263.41 451.30H271.41" stroke="#000" stroke-width="1.1" fill="none"/>
<path d="M270.84 444.80V457.80" stroke="#000" stroke-width="1.7" fill="none"/><path d="M266.84 451.30H274.84" stroke="#000" stroke-width="1.1" fill="none"/>
<path d="M278.83 444.80V457.80" stroke="#000" stroke-width="1.7" fill="none"/><path d="M274.83 451.30H282.83" stroke="#000" stroke-width="1.1" fill="none"/>
<path d="M284.22 444.80V457.80" stroke="#000" stroke-width="1.7" fill="none"/><path d="M280.22 451.30H288.22" stroke="#000" stroke-width="1.1" fill="none"/>
<path d="M290.99 444.80V457.80" stroke="#000" stroke-width="1.7" fill="none"/><path d="M286.99 451.30H294.99" stroke="#000" stroke-width="1.1" fill="none"/>
<path d="M307.47 444.80V457.80" stroke="#000" stroke-width="1.7" fill="none"/><path d="M303.47 451.30H311.47" stroke="#000" stroke-width="1.1" fill="none"/>
<path d="M314.90 444.80V457.80" stroke="#000" stroke-width="1.7" fill="none"/><path d="M310.90 451.30H318.90" stroke="#000" stroke-width="1.1" fill="none"/>
<path d="M316.21 444.80V457.80" stroke="#000" stroke-width="1.7" fill="none"/><path d="M312.21 451.30H320.21" stroke="#000" stroke-width="1.1" fill="none"/>
<path d="M319.39 444.80V457.80" stroke="#000" stroke-width="1.7" fill="none"/><path d="M315.39 451.30H323.39" stroke="#000" stroke-width="1.1" fill="none"/>
<path d="M323.30 444.80V457.80" stroke="#000" stroke-width="1.7" fill="none"/><path d="M319.30 451.30H327.30" stroke="#000" stroke-width="1.1" fill="none"/>
<path d="M324.28 444.80V457.80" stroke="#000" stroke-width="1.7" fill="none"/><path d="M320.28 451.30H328.28" stroke="#000" stroke-width="1.1" fill="none"/>
<path d="M325.67 444.80V457.80" stroke="#000" stroke-width="1.7" fill="none"/><path d="M321.67 451.30H329.67" stroke="#000" stroke-width="1.1" fill="none"/>
<path d="M340.52 444.80V457.80" stroke="#000" stroke-width="1.7" fill="none"/><path d="M336.52 451.30H344.52" stroke="#000" stroke-width="1.1" fill="none"/>
<path d="M348.52 444.80V457.80" stroke="#000" stroke-width="1.7" fill="none"/><path d="M344.52 451.30H352.52" stroke="#000" stroke-width="1.1" fill="none"/>
<path d="M387.52 444.80V457.80" stroke="#000" stroke-width="1.7" fill="none"/><path d="M383.52 451.30H391.52" stroke="#000" stroke-width="1.1" fill="none"/>
<path d="M462.51 444.80V457.80" stroke="#000" stroke-width="1.7" fill="none"/><path d="M458.51 451.30H466.51" stroke="#000" stroke-width="1.1" fill="none"/>
<path d="M228.30 816.90V829.90" stroke="#000" stroke-width="1.1" fill="none"/><path d="M224.30 823.40H232.30" stroke="#000" stroke-width="1.1" fill="none"/>
<path d="M237.57 816.90V829.90" stroke="#000" stroke-width="1.1" fill="none"/><path d="M233.57 823.40H241.57" stroke="#000" stroke-width="1.1" fill="none"/>
<path d="M239.18 816.90V829.90" stroke="#000" stroke-width="1.1" fill="none"/><path d="M235.18 823.40H243.18" stroke="#000" stroke-width="1.1" fill="none"/>
<path d="M240.55 816.90V829.90" stroke="#000" stroke-width="1.1" fill="none"/><path d="M236.55 823.40H244.55" stroke="#000" stroke-width="1.1" fill="none"/>
<path d="M242.00 819.50V832.50" stroke="#000" stroke-width="1.1" fill="none"/><path d="M238.00 826.00H246.00" stroke="#000" stroke-width="1.1" fill="none"/>
<path d="M245.12 819.50V832.50" stroke="#000" stroke-width="1.1" fill="none"/><path d="M241.12 826.00H249.12" stroke="#000" stroke-width="1.1" fill="none"/>
<path d="M248.93 819.50V832.50" stroke="#000" stroke-width="1.1" fill="none"/><path d="M244.93 826.00H252.93" stroke="#000" stroke-width="1.1" fill="none"/>
<path d="M252.34 819.50V832.50" stroke="#000" stroke-width="1.1" fill="none"/><path d="M248.34 826.00H256.34" stroke="#000" stroke-width="1.1" fill="none"/>
<path d="M256.28 819.50V832.50" stroke="#000" stroke-width="1.1" fill="none"/><path d="M252.28 826.00H260.28" stroke="#000" stroke-width="1.1" fill="none"/>
<path d="M260.27 819.50V832.50" stroke="#000" stroke-width="1.1" fill="none"/><path d="M256.27 826.00H264.27" stroke="#000" stroke-width="1.1" fill="none"/>
<path d="M263.00 819.50V832.50" stroke="#000" stroke-width="1.1" fill="none"/><path d="M259.00 826.00H267.00" stroke="#000" stroke-width="1.1" fill="none"/>
<path d="M265.61 819.50V832.50" stroke="#000" stroke-width="1.1" fill="none"/><path d="M261.61 826.00H269.61" stroke="#000" stroke-width="1.1" fill="none"/>
<path d="M270.08 819.50V832.50" stroke="#000" stroke-width="1.1" fill="none"/><path d="M266.08 826.00H274.08" stroke="#000" stroke-width="1.1" fill="none"/>
<path d="M273.24 819.50V832.50" stroke="#000" stroke-width="1.1" fill="none"/><path d="M269.24 826.00H277.24" stroke="#000" stroke-width="1.1" fill="none"/>
<path d="M276.35 819.50V832.50" stroke="#000" stroke-width="1.1" fill="none"/><path d="M272.35 826.00H280.35" stroke="#000" stroke-width="1.1" fill="none"/>
<path d="M281.18 819.50V832.50" stroke="#000" stroke-width="1.1" fill="none"/><path d="M277.18 826.00H285.18" stroke="#000" stroke-width="1.1" fill="none"/>
<path d="M289.28 819.50V832.50" stroke="#000" stroke-width="1.1" fill="none"/><path d="M285.28 826.00H293.28" stroke="#000" stroke-width="1.1" fill="none"/>
<path d="M292.94 823.50V836.50" stroke="#000" stroke-width="1.1" fill="none"/><path d="M288.94 830.00H296.94" stroke="#000" stroke-width="1.1" fill="none"/>
<path d="M296.96 823.50V836.50" stroke="#000" stroke-width="1.1" fill="none"/><path d="M292.96 830.00H300.96" stroke="#000" stroke-width="1.1" fill="none"/>
<path d="M299.88 823.50V836.50" stroke="#000" stroke-width="1.1" fill="none"/><path d="M295.88 830.00H303.88" stroke="#000" stroke-width="1.1" fill="none"/>
<path d="M303.89 823.50V836.50" stroke="#000" stroke-width="1.1" fill="none"/><path d="M299.89 830.00H307.89" stroke="#000" stroke-width="1.1" fill="none"/>
<path d="M308.43 823.50V836.50" stroke="#000" stroke-width="1.1" fill="none"/><path d="M304.43 830.00H312.43" stroke="#000" stroke-width="1.1" fill="none"/>
<path d="M312.19 823.50V836.50" stroke="#000" stroke-width="1.1" fill="none"/><path d="M308.19 830.00H316.19" stroke="#000" stroke-width="1.1" fill="none"/>
<path d="M316.44 823.50V836.50" stroke="#000" stroke-width="1.1" fill="none"/><path d="M312.44 830.00H320.44" stroke="#000" stroke-width="1.1" fill="none"/>
<path d="M320.54 823.50V836.50" stroke="#000" stroke-width="1.1" fill="none"/><path d="M316.54 830.00H324.54" stroke="#000" stroke-width="1.1" fill="none"/>
<path d="M323.26 823.50V836.50" stroke="#000" stroke-width="1.1" fill="none"/><path d="M319.26 830.00H327.26" stroke="#000" stroke-width="1.1" fill="none"/>
<path d="M330.66 827.50V840.50" stroke="#000" stroke-width="1.1" fill="none"/><path d="M326.66 834.00H334.66" stroke="#000" stroke-width="1.1" fill="none"/>
<path d="M333.08 827.50V840.50" stroke="#000" stroke-width="1.1" fill="none"/><path d="M329.08 834.00H337.08" stroke="#000" stroke-width="1.1" fill="none"/>
<path d="M341.95 827.50V840.50" stroke="#000" stroke-width="1.1" fill="none"/><path d="M337.95 834.00H345.95" stroke="#000" stroke-width="1.1" fill="none"/>
<path d="M344.36 827.50V840.50" stroke="#000" stroke-width="1.1" fill="none"/><path d="M340.36 834.00H348.36" stroke="#000" stroke-width="1.1" fill="none"/>
<path d="M353.23 833.50V846.50" stroke="#000" stroke-width="1.1" fill="none"/><path d="M349.23 840.00H357.23" stroke="#000" stroke-width="1.1" fill="none"/>
<path d="M357.72 833.50V846.50" stroke="#000" stroke-width="1.1" fill="none"/><path d="M353.72 840.00H361.72" stroke="#000" stroke-width="1.1" fill="none"/>
<path d="M361.39 833.50V846.50" stroke="#000" stroke-width="1.1" fill="none"/><path d="M357.39 840.00H365.39" stroke="#000" stroke-width="1.1" fill="none"/>
<path d="M364.30 833.50V846.50" stroke="#000" stroke-width="1.1" fill="none"/><path d="M360.30 840.00H368.30" stroke="#000" stroke-width="1.1" fill="none"/>
<path d="M369.56 833.50V846.50" stroke="#000" stroke-width="1.1" fill="none"/><path d="M365.56 840.00H373.56" stroke="#000" stroke-width="1.1" fill="none"/>
<path d="M373.72 833.50V846.50" stroke="#000" stroke-width="1.1" fill="none"/><path d="M369.72 840.00H377.72" stroke="#000" stroke-width="1.1" fill="none"/>
<path d="M378.56 833.50V846.50" stroke="#000" stroke-width="1.1" fill="none"/><path d="M374.56 840.00H382.56" stroke="#000" stroke-width="1.1" fill="none"/>
<path d="M383.86 833.50V846.50" stroke="#000" stroke-width="1.1" fill="none"/><path d="M379.86 840.00H387.86" stroke="#000" stroke-width="1.1" fill="none"/>
<path d="M388.70 833.50V846.50" stroke="#000" stroke-width="1.1" fill="none"/><path d="M384.70 840.00H392.70" stroke="#000" stroke-width="1.1" fill="none"/>
<path d="M394.12 833.50V846.50" stroke="#000" stroke-width="1.1" fill="none"/><path d="M390.12 840.00H398.12" stroke="#000" stroke-width="1.1" fill="none"/>
<path d="M398.05 833.50V846.50" stroke="#000" stroke-width="1.1" fill="none"/><path d="M394.05 840.00H402.05" stroke="#000" stroke-width="1.1" fill="none"/>
<path d="M403.13 833.50V846.50" stroke="#000" stroke-width="1.1" fill="none"/><path d="M399.13 840.00H407.13" stroke="#000" stroke-width="1.1" fill="none"/>
<path d="M407.21 833.50V846.50" stroke="#000" stroke-width="1.1" fill="none"/><path d="M403.21 840.00H411.21" stroke="#000" stroke-width="1.1" fill="none"/>
<path d="M412.67 833.50V846.50" stroke="#000" stroke-width="1.1" fill="none"/><path d="M408.67 840.00H416.67" stroke="#000" stroke-width="1.1" fill="none"/>
<path d="M417.97 833.50V846.50" stroke="#000" stroke-width="1.1" fill="none"/><path d="M413.97 840.00H421.97" stroke="#000" stroke-width="1.1" fill="none"/>
<path d="M421.07 833.50V846.50" stroke="#000" stroke-width="1.1" fill="none"/><path d="M417.07 840.00H425.07" stroke="#000" stroke-width="1.1" fill="none"/>
<path d="M424.27 833.50V846.50" stroke="#000" stroke-width="1.1" fill="none"/><path d="M420.27 840.00H428.27" stroke="#000" stroke-width="1.1" fill="none"/>
<path d="M427.70 833.50V846.50" stroke="#000" stroke-width="1.1" fill="none"/><path d="M423.70 840.00H431.70" stroke="#000" stroke-width="1.1" fill="none"/>
<path d="M435.85 833.50V846.50" stroke="#000" stroke-width="1.1" fill="none"/><path d="M431.85 840.00H439.85" stroke="#000" stroke-width="1.1" fill="none"/>
<path d="M437.46 833.50V846.50" stroke="#000" stroke-width="1.1" fill="none"/><path d="M433.46 840.00H441.46" stroke="#000" stroke-width="1.1" fill="none"/>
<path d="M441.08 833.50V846.50" stroke="#000" stroke-width="1.1" fill="none"/><path d="M437.08 840.00H445.08" stroke="#000" stroke-width="1.1" fill="none"/>
<path d="M455.59 833.50V846.50" stroke="#000" stroke-width="1.1" fill="none"/><path d="M451.59 840.00H459.59" stroke="#000" stroke-width="1.1" fill="none"/>
<path d="M466.07 833.50V846.50" stroke="#000" stroke-width="1.1" fill="none"/><path d="M462.07 840.00H470.07" stroke="#000" stroke-width="1.1" fill="none"/>
<path d="M470.91 833.50V846.50" stroke="#000" stroke-width="1.1" fill="none"/><path d="M466.91 840.00H474.91" stroke="#000" stroke-width="1.1" fill="none"/>
<path d="M474.13 833.50V846.50" stroke="#000" stroke-width="1.1" fill="none"/><path d="M470.13 840.00H478.13" stroke="#000" stroke-width="1.1" fill="none"/>
<path d="M483.00 833.50V846.50" stroke="#000" stroke-width="1.1" fill="none"/><path d="M479.00 840.00H487.00" stroke="#000" stroke-width="1.1" fill="none"/>
<path d="M486.22 833.50V846.50" stroke="#000" stroke-width="1.1" fill="none"/><path d="M482.22 840.00H490.22" stroke="#000" stroke-width="1.1" fill="none"/>
<path d="M499.92 833.50V846.50" stroke="#000" stroke-width="1.1" fill="none"/><path d="M495.92 840.00H503.92" stroke="#000" stroke-width="1.1" fill="none"/>
<path d="M242.81 826.10V839.10" stroke="#000" stroke-width="1.1" fill="none"/><path d="M238.81 832.60H246.81" stroke="#000" stroke-width="1.1" fill="none"/>
<path d="M246.37 826.10V839.10" stroke="#000" stroke-width="1.1" fill="none"/><path d="M242.37 832.60H250.37" stroke="#000" stroke-width="1.1" fill="none"/>
<path d="M250.36 826.10V839.10" stroke="#000" stroke-width="1.1" fill="none"/><path d="M246.36 832.60H254.36" stroke="#000" stroke-width="1.1" fill="none"/>
<path d="M253.62 826.10V839.10" stroke="#000" stroke-width="1.1" fill="none"/><path d="M249.62 832.60H257.62" stroke="#000" stroke-width="1.1" fill="none"/>
<path d="M257.35 826.10V839.10" stroke="#000" stroke-width="1.1" fill="none"/><path d="M253.35 832.60H261.35" stroke="#000" stroke-width="1.1" fill="none"/>
<path d="M260.80 826.10V839.10" stroke="#000" stroke-width="1.1" fill="none"/><path d="M256.80 832.60H264.80" stroke="#000" stroke-width="1.1" fill="none"/>
<path d="M264.17 826.10V839.10" stroke="#000" stroke-width="1.1" fill="none"/><path d="M260.17 832.60H268.17" stroke="#000" stroke-width="1.1" fill="none"/>
<path d="M268.07 826.10V839.10" stroke="#000" stroke-width="1.1" fill="none"/><path d="M264.07 832.60H272.07" stroke="#000" stroke-width="1.1" fill="none"/>
<path d="M271.97 826.10V839.10" stroke="#000" stroke-width="1.1" fill="none"/><path d="M267.97 832.60H275.97" stroke="#000" stroke-width="1.1" fill="none"/>
<path d="M276.59 826.10V839.10" stroke="#000" stroke-width="1.1" fill="none"/><path d="M272.59 832.60H280.59" stroke="#000" stroke-width="1.1" fill="none"/>
<path d="M280.70 826.10V839.10" stroke="#000" stroke-width="1.1" fill="none"/><path d="M276.70 832.60H284.70" stroke="#000" stroke-width="1.1" fill="none"/>
<path d="M289.89 826.10V839.10" stroke="#000" stroke-width="1.1" fill="none"/><path d="M285.89 832.60H293.89" stroke="#000" stroke-width="1.1" fill="none"/>
<path d="M294.71 826.10V839.10" stroke="#000" stroke-width="1.1" fill="none"/><path d="M290.71 832.60H298.71" stroke="#000" stroke-width="1.1" fill="none"/>
<path d="M298.80 826.10V839.10" stroke="#000" stroke-width="1.1" fill="none"/><path d="M294.80 832.60H302.80" stroke="#000" stroke-width="1.1" fill="none"/>
<path d="M301.75 826.10V839.10" stroke="#000" stroke-width="1.1" fill="none"/><path d="M297.75 832.60H305.75" stroke="#000" stroke-width="1.1" fill="none"/>
<path d="M306.27 826.10V839.10" stroke="#000" stroke-width="1.1" fill="none"/><path d="M302.27 832.60H310.27" stroke="#000" stroke-width="1.1" fill="none"/>
<path d="M311.03 826.10V839.10" stroke="#000" stroke-width="1.1" fill="none"/><path d="M307.03 832.60H315.03" stroke="#000" stroke-width="1.1" fill="none"/>
<path d="M315.65 826.10V839.10" stroke="#000" stroke-width="1.1" fill="none"/><path d="M311.65 832.60H319.65" stroke="#000" stroke-width="1.1" fill="none"/>
<path d="M319.51 826.10V839.10" stroke="#000" stroke-width="1.1" fill="none"/><path d="M315.51 832.60H323.51" stroke="#000" stroke-width="1.1" fill="none"/>
<path d="M323.70 826.10V839.10" stroke="#000" stroke-width="1.1" fill="none"/><path d="M319.70 832.60H327.70" stroke="#000" stroke-width="1.1" fill="none"/>
<path d="M331.47 826.10V839.10" stroke="#000" stroke-width="1.1" fill="none"/><path d="M327.47 832.60H335.47" stroke="#000" stroke-width="1.1" fill="none"/>
<path d="M338.04 826.10V839.10" stroke="#000" stroke-width="1.1" fill="none"/><path d="M334.04 832.60H342.04" stroke="#000" stroke-width="1.1" fill="none"/>
<path d="M343.58 826.10V839.10" stroke="#000" stroke-width="1.1" fill="none"/><path d="M339.58 832.60H347.58" stroke="#000" stroke-width="1.1" fill="none"/>
<path d="M347.95 826.10V839.10" stroke="#000" stroke-width="1.1" fill="none"/><path d="M343.95 832.60H351.95" stroke="#000" stroke-width="1.1" fill="none"/>
<path d="M351.43 826.10V839.10" stroke="#000" stroke-width="1.1" fill="none"/><path d="M347.43 832.60H355.43" stroke="#000" stroke-width="1.1" fill="none"/>
<path d="M358.10 826.10V839.10" stroke="#000" stroke-width="1.1" fill="none"/><path d="M354.10 832.60H362.10" stroke="#000" stroke-width="1.1" fill="none"/>
<path d="M365.31 826.10V839.10" stroke="#000" stroke-width="1.1" fill="none"/><path d="M361.31 832.60H369.31" stroke="#000" stroke-width="1.1" fill="none"/>
<path d="M368.89 826.10V839.10" stroke="#000" stroke-width="1.1" fill="none"/><path d="M364.89 832.60H372.89" stroke="#000" stroke-width="1.1" fill="none"/>
<path d="M375.34 826.10V839.10" stroke="#000" stroke-width="1.1" fill="none"/><path d="M371.34 832.60H379.34" stroke="#000" stroke-width="1.1" fill="none"/>
<path d="M380.22 826.10V839.10" stroke="#000" stroke-width="1.1" fill="none"/><path d="M376.22 832.60H384.22" stroke="#000" stroke-width="1.1" fill="none"/>
<path d="M384.05 826.10V839.10" stroke="#000" stroke-width="1.1" fill="none"/><path d="M380.05 832.60H388.05" stroke="#000" stroke-width="1.1" fill="none"/>
<path d="M388.46 826.10V839.10" stroke="#000" stroke-width="1.1" fill="none"/><path d="M384.46 832.60H392.46" stroke="#000" stroke-width="1.1" fill="none"/>
<path d="M394.78 826.10V839.10" stroke="#000" stroke-width="1.1" fill="none"/><path d="M390.78 832.60H398.78" stroke="#000" stroke-width="1.1" fill="none"/>
<path d="M401.52 826.10V839.10" stroke="#000" stroke-width="1.1" fill="none"/><path d="M397.52 832.60H405.52" stroke="#000" stroke-width="1.1" fill="none"/>
<path d="M404.92 826.10V839.10" stroke="#000" stroke-width="1.1" fill="none"/><path d="M400.92 832.60H408.92" stroke="#000" stroke-width="1.1" fill="none"/>
<path d="M410.62 826.10V839.10" stroke="#000" stroke-width="1.1" fill="none"/><path d="M406.62 832.60H414.62" stroke="#000" stroke-width="1.1" fill="none"/>
<path d="M414.03 826.10V839.10" stroke="#000" stroke-width="1.1" fill="none"/><path d="M410.03 832.60H418.03" stroke="#000" stroke-width="1.1" fill="none"/>
<path d="M420.15 826.10V839.10" stroke="#000" stroke-width="1.1" fill="none"/><path d="M416.15 832.60H424.15" stroke="#000" stroke-width="1.1" fill="none"/>
<path d="M424.71 826.10V839.10" stroke="#000" stroke-width="1.1" fill="none"/><path d="M420.71 832.60H428.71" stroke="#000" stroke-width="1.1" fill="none"/>
<path d="M431.48 826.10V839.10" stroke="#000" stroke-width="1.1" fill="none"/><path d="M427.48 832.60H435.48" stroke="#000" stroke-width="1.1" fill="none"/>
<path d="M439.47 826.10V839.10" stroke="#000" stroke-width="1.1" fill="none"/><path d="M435.47 832.60H443.47" stroke="#000" stroke-width="1.1" fill="none"/>
<path d="M449.14 826.10V839.10" stroke="#000" stroke-width="1.1" fill="none"/><path d="M445.14 832.60H453.14" stroke="#000" stroke-width="1.1" fill="none"/>
<path d="M454.79 826.10V839.10" stroke="#000" stroke-width="1.1" fill="none"/><path d="M450.79 832.60H458.79" stroke="#000" stroke-width="1.1" fill="none"/>
<path d="M460.43 826.10V839.10" stroke="#000" stroke-width="1.1" fill="none"/><path d="M456.43 832.60H464.43" stroke="#000" stroke-width="1.1" fill="none"/>
<path d="M468.49 826.10V839.10" stroke="#000" stroke-width="1.1" fill="none"/><path d="M464.49 832.60H472.49" stroke="#000" stroke-width="1.1" fill="none"/>
<path d="M471.71 826.10V839.10" stroke="#000" stroke-width="1.1" fill="none"/><path d="M467.71 832.60H475.71" stroke="#000" stroke-width="1.1" fill="none"/>
<path d="M478.16 826.10V839.10" stroke="#000" stroke-width="1.1" fill="none"/><path d="M474.16 832.60H482.16" stroke="#000" stroke-width="1.1" fill="none"/>
<path d="M241.44 870.60V883.60" stroke="#000" stroke-width="1.7" fill="none"/><path d="M237.44 877.10H245.44" stroke="#000" stroke-width="1.1" fill="none"/>
<path d="M250.14 870.60V883.60" stroke="#000" stroke-width="1.7" fill="none"/><path d="M246.14 877.10H254.14" stroke="#000" stroke-width="1.1" fill="none"/>
<path d="M253.53 870.60V883.60" stroke="#000" stroke-width="1.7" fill="none"/><path d="M249.53 877.10H257.53" stroke="#000" stroke-width="1.1" fill="none"/>
<path d="M261.75 870.60V883.60" stroke="#000" stroke-width="1.7" fill="none"/><path d="M257.75 877.10H265.75" stroke="#000" stroke-width="1.1" fill="none"/>
<path d="M272.07 870.60V883.60" stroke="#000" stroke-width="1.7" fill="none"/><path d="M268.07 877.10H276.07" stroke="#000" stroke-width="1.1" fill="none"/>
<path d="M275.45 870.60V883.60" stroke="#000" stroke-width="1.7" fill="none"/><path d="M271.45 877.10H279.45" stroke="#000" stroke-width="1.1" fill="none"/>
<path d="M283.35 870.60V883.60" stroke="#000" stroke-width="1.7" fill="none"/><path d="M279.35 877.10H287.35" stroke="#000" stroke-width="1.1" fill="none"/>
<path d="M288.67 870.60V883.60" stroke="#000" stroke-width="1.7" fill="none"/><path d="M284.67 877.10H292.67" stroke="#000" stroke-width="1.1" fill="none"/>
<path d="M295.36 870.60V883.60" stroke="#000" stroke-width="1.7" fill="none"/><path d="M291.36 877.10H299.36" stroke="#000" stroke-width="1.1" fill="none"/>
<path d="M311.64 870.60V883.60" stroke="#000" stroke-width="1.7" fill="none"/><path d="M307.64 877.10H315.64" stroke="#000" stroke-width="1.1" fill="none"/>
<path d="M318.97 870.60V883.60" stroke="#000" stroke-width="1.7" fill="none"/><path d="M314.97 877.10H322.97" stroke="#000" stroke-width="1.1" fill="none"/>
<path d="M320.26 870.60V883.60" stroke="#000" stroke-width="1.7" fill="none"/><path d="M316.26 877.10H324.26" stroke="#000" stroke-width="1.1" fill="none"/>
<path d="M323.41 870.60V883.60" stroke="#000" stroke-width="1.7" fill="none"/><path d="M319.41 877.10H327.41" stroke="#000" stroke-width="1.1" fill="none"/>
<path d="M327.28 870.60V883.60" stroke="#000" stroke-width="1.7" fill="none"/><path d="M323.28 877.10H331.28" stroke="#000" stroke-width="1.1" fill="none"/>
<path d="M328.24 870.60V883.60" stroke="#000" stroke-width="1.7" fill="none"/><path d="M324.24 877.10H332.24" stroke="#000" stroke-width="1.1" fill="none"/>
<path d="M329.61 870.60V883.60" stroke="#000" stroke-width="1.7" fill="none"/><path d="M325.61 877.10H333.61" stroke="#000" stroke-width="1.1" fill="none"/>
<path d="M344.28 870.60V883.60" stroke="#000" stroke-width="1.7" fill="none"/><path d="M340.28 877.10H348.28" stroke="#000" stroke-width="1.1" fill="none"/>
<path d="M352.18 870.60V883.60" stroke="#000" stroke-width="1.7" fill="none"/><path d="M348.18 877.10H356.18" stroke="#000" stroke-width="1.1" fill="none"/>
<path d="M390.71 870.60V883.60" stroke="#000" stroke-width="1.7" fill="none"/><path d="M386.71 877.10H394.71" stroke="#000" stroke-width="1.1" fill="none"/>
<path d="M464.78 870.60V883.60" stroke="#000" stroke-width="1.7" fill="none"/><path d="M460.78 877.10H468.78" stroke="#000" stroke-width="1.1" fill="none"/>
<line x1="96.8" y1="638.8" x2="120.1" y2="638.8" stroke="#000" stroke-width="3.8" />
<line x1="96.5" y1="665" x2="99.1" y2="665" stroke="#000" stroke-width="3.7" />
<line x1="106.4" y1="665" x2="109.0" y2="665" stroke="#000" stroke-width="3.7" />
<line x1="116.0" y1="665" x2="118.6" y2="665" stroke="#000" stroke-width="3.7" />
<line x1="96.5" y1="690" x2="106.9" y2="690" stroke="#000" stroke-width="3.7" />
<line x1="116" y1="690" x2="120" y2="690" stroke="#000" stroke-width="3.7" />
<line x1="103.2" y1="1072.1" x2="126.8" y2="1072.1" stroke="#000" stroke-width="3.8" />
<line x1="103.2" y1="1098" x2="105.8" y2="1098" stroke="#000" stroke-width="3.7" />
<line x1="112.9" y1="1098" x2="115.5" y2="1098" stroke="#000" stroke-width="3.7" />
<line x1="122.7" y1="1098" x2="125.3" y2="1098" stroke="#000" stroke-width="3.7" />
<line x1="103.2" y1="1122.6" x2="113" y2="1122.6" stroke="#000" stroke-width="3.7" />
<line x1="122.8" y1="1122.6" x2="126.8" y2="1122.6" stroke="#000" stroke-width="3.7" />
<text x="1.15" y="19.10" font-size="25" font-weight="bold" fill="#000">A</text>
<text transform="translate(68.00,90.15) rotate(-90)" font-size="20" font-weight="normal" fill="#000">80</text>
<text transform="translate(67.60,193.30) rotate(-90)" font-size="20" font-weight="normal" fill="#000">40</text>
<text transform="translate(66.70,306.88) rotate(-90)" font-size="20" font-weight="normal" fill="#000">0.0</text>
<text transform="translate(33.70,304.10) rotate(-90)" font-size="20" font-weight="normal" fill="#000">Cumulative Incidence MMR (%)</text>
<text x="254.57" y="328.60" font-size="20.5" font-weight="normal" fill="#000">2</text>
<text x="358.77" y="328.35" font-size="20.5" font-weight="normal" fill="#000">3</text>
<text x="463.38" y="328.60" font-size="20.5" font-weight="normal" fill="#000">4</text>
<text x="282.10" y="352.05" font-size="20.5" font-weight="normal" fill="#000">Years</text>
<text x="131.20" y="69.00" font-size="16.5" font-weight="normal" fill="#000">≤ 1%</text>
<text x="401.25" y="69.90" font-size="16.5" font-weight="normal" fill="#000">&gt;1%</text>
<text x="442.15" y="69.65" font-size="16.5" font-weight="normal" fill="#000">to</text>
<text x="462.40" y="69.65" font-size="16.5" font-weight="normal" fill="#000">≤10%</text>
<text x="418.45" y="182.75" font-size="16.5" font-weight="normal" fill="#000">&gt;10%</text>
<text x="-0.05" y="380.50" font-size="24.5" font-weight="bold" fill="#000">B</text>
<text transform="translate(42.55,418.85) rotate(-90)" font-size="19.3" font-weight="bold" fill="#000">100</text>
<text transform="translate(42.55,473.12) rotate(-90)" font-size="19.3" font-weight="bold" fill="#000">80</text>
<text transform="translate(42.55,542.05) rotate(-90)" font-size="19.3" font-weight="bold" fill="#000">60</text>
<text transform="translate(42.55,608.10) rotate(-90)" font-size="19.3" font-weight="bold" fill="#000">40</text>
<text transform="translate(42.55,681.55) rotate(-90)" font-size="19.3" font-weight="bold" fill="#000">20</text>
<text transform="translate(16.15,646.25) rotate(-90)" font-size="19.5" font-weight="bold" fill="#000">Overall survival (%)</text>
<text x="136.45" y="760.80" font-size="19.5" font-weight="bold" fill="#000">1</text>
<text x="217.72" y="760.80" font-size="19.5" font-weight="bold" fill="#000">2</text>
<text x="300.02" y="760.55" font-size="19.5" font-weight="bold" fill="#000">3</text>
<text x="380.80" y="760.80" font-size="19.5" font-weight="bold" fill="#000">4</text>
<text x="462.30" y="760.55" font-size="19.5" font-weight="bold" fill="#000">5</text>
<text x="257.60" y="777.75" font-size="19.7" font-weight="bold" fill="#000">Years</text>
<text x="79.55" y="611.25" font-size="19.4" font-weight="bold" fill="#000">BCR-ABL at 3 months</text>
<text x="133.80" y="643.80" font-size="18.8" font-weight="bold" fill="#000">≤1%</text>
<text x="133.85" y="671.50" font-size="18.8" font-weight="bold" fill="#000">&gt;1%</text>
<text x="178.85" y="671.25" font-size="18.8" font-weight="bold" fill="#000">to</text>
<text x="202.50" y="671.25" font-size="18.8" font-weight="bold" fill="#000">≤10%</text>
<text x="133.85" y="695.75" font-size="18.8" font-weight="bold" fill="#000">&gt;10%</text>
<text x="0.80" y="805.95" font-size="24.5" font-weight="bold" fill="#000">C</text>
<text transform="translate(50.45,846.25) rotate(-90)" font-size="19.3" font-weight="bold" fill="#000">100</text>
<text transform="translate(50.45,899.52) rotate(-90)" font-size="19.3" font-weight="bold" fill="#000">80</text>
<text transform="translate(50.45,966.45) rotate(-90)" font-size="19.3" font-weight="bold" fill="#000">60</text>
<text transform="translate(50.45,1031.20) rotate(-90)" font-size="19.3" font-weight="bold" fill="#000">40</text>
<text transform="translate(50.45,1103.75) rotate(-90)" font-size="19.3" font-weight="bold" fill="#000">20</text>
<text transform="translate(23.65,1145.25) rotate(-90)" font-size="19.5" font-weight="bold" fill="#000">Transformation free survival (%)</text>
<text x="142.05" y="1185.00" font-size="19.5" font-weight="bold" fill="#000">1</text>
<text x="223.12" y="1185.00" font-size="19.5" font-weight="bold" fill="#000">2</text>
<text x="303.43" y="1184.75" font-size="19.5" font-weight="bold" fill="#000">3</text>
<text x="384.00" y="1185.00" font-size="19.5" font-weight="bold" fill="#000">4</text>
<text x="463.10" y="1184.75" font-size="19.5" font-weight="bold" fill="#000">5</text>
<text x="262.80" y="1202.45" font-size="19.7" font-weight="bold" fill="#000">Years</text>
<text x="86.05" y="1045.55" font-size="19.4" font-weight="bold" fill="#000">BCR-ABL at 3 months</text>
<text x="139.70" y="1076.90" font-size="18.8" font-weight="bold" fill="#000">≤1%</text>
<text x="139.65" y="1102.90" font-size="18.8" font-weight="bold" fill="#000">&gt;1%</text>
<text x="185.15" y="1102.65" font-size="18.8" font-weight="bold" fill="#000">to</text>
<text x="208.40" y="1102.65" font-size="18.8" font-weight="bold" fill="#000">≤10%</text>
<text x="139.45" y="1128.25" font-size="18.8" font-weight="bold" fill="#000">&gt;10%</text>
</svg>
</body></html>
